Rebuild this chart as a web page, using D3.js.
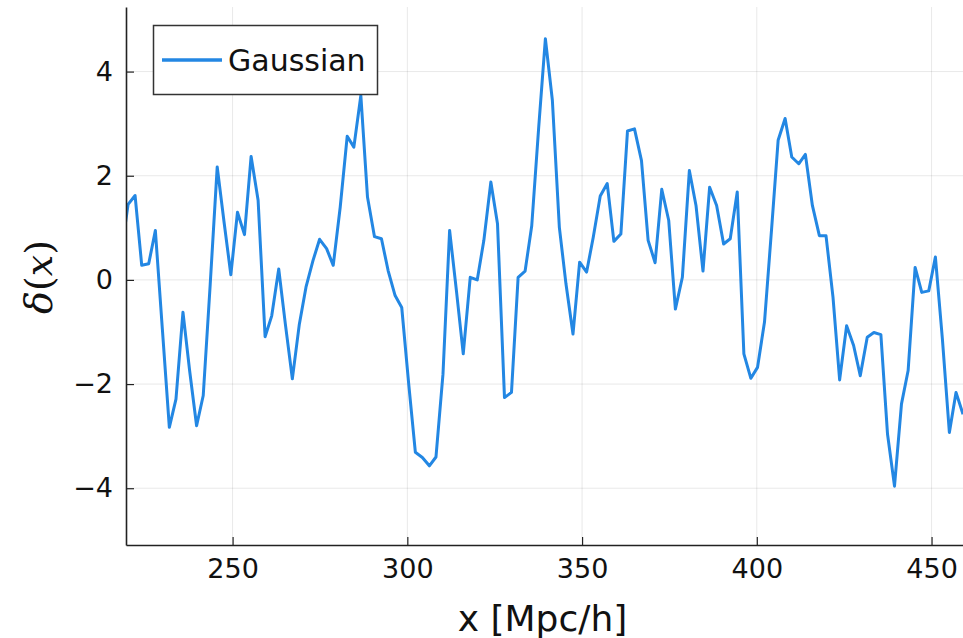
<!DOCTYPE html>
<html>
<head>
<meta charset="utf-8">
<script src="https://cdn.jsdelivr.net/npm/d3@7"></script>
<style>
	body { margin: 0; background: #fff; }
	svg { display: block; font-family: "DejaVu Sans", sans-serif; }
</style>
</head>
<body>
<svg id="svg" width="963" height="638"></svg>
<script>
// positions along the line of sight, Mpc/h
var xs = [218.1,
	220.1, 222.1, 224.0, 226.0, 227.9, 229.9, 231.9, 233.8, 235.8, 237.7,
	239.7, 241.6, 243.6, 245.6, 247.5, 249.5, 251.4, 253.4, 255.3, 257.3,
	259.3, 261.2, 263.2, 265.1, 267.1, 269.1, 271.0, 273.0, 274.9, 276.9,
	278.8, 280.8, 282.8, 284.7, 286.7, 288.6, 290.6, 292.6, 294.5, 296.5,
	298.4, 300.4, 302.3, 304.3, 306.3, 308.2, 310.2, 312.1, 314.1, 316.0,
	318.0, 320.0, 321.9, 323.9, 325.8, 327.8, 329.8, 331.7, 333.7, 335.6,
	337.6, 339.5, 341.5, 343.5, 345.4, 347.4, 349.3, 351.3, 353.2, 355.2,
	357.2, 359.1, 361.1, 363.0, 365.0, 367.0, 368.9, 370.9, 372.8, 374.8,
	376.7, 378.7, 380.7, 382.6, 384.6, 386.5, 388.5, 390.5, 392.4, 394.4,
	396.3, 398.3, 400.2, 402.2, 404.2, 406.1, 408.1, 410.0, 412.0, 413.9,
	415.9, 417.9, 419.8, 421.8, 423.7, 425.7, 427.7, 429.6, 431.6, 433.5,
	435.5, 437.4, 439.4, 441.4, 443.3, 445.3, 447.2, 449.2, 451.1, 453.1,
	455.1, 457.0, 459.0];

// density contrast delta(x)
var delta = [0.5,
	1.45, 1.62, 0.28, 0.31, 0.95, -0.94, -2.83, -2.29, -0.62, -1.74,
	-2.80, -2.22, -0.08, 2.17, 1.14, 0.10, 1.30, 0.87, 2.37, 1.53,
	-1.09, -0.69, 0.21, -0.85, -1.90, -0.85, -0.14, 0.37, 0.78, 0.60,
	0.28, 1.40, 2.76, 2.55, 3.54, 1.59, 0.83, 0.79, 0.18, -0.30,
	-0.53, -2.00, -3.31, -3.41, -3.57, -3.40, -1.81, 0.95, -0.24, -1.42,
	0.05, 0.00, 0.76, 1.88, 1.08, -2.26, -2.16, 0.05, 0.17, 1.04,
	2.94, 4.63, 3.45, 1.01, -0.08, -1.04, 0.34, 0.15, 0.82, 1.61,
	1.85, 0.74, 0.88, 2.86, 2.90, 2.29, 0.76, 0.33, 1.74, 1.14,
	-0.56, 0.05, 2.10, 1.43, 0.17, 1.78, 1.43, 0.69, 0.79, 1.69,
	-1.42, -1.89, -1.68, -0.81, 0.95, 2.68, 3.10, 2.36, 2.23, 2.41,
	1.43, 0.85, 0.85, -0.33, -1.92, -0.88, -1.26, -1.84, -1.10, -1.01,
	-1.05, -2.96, -3.96, -2.38, -1.74, 0.24, -0.24, -0.21, 0.44, -1.13,
	-2.93, -2.16, -2.58];

var xTicks = [250, 300, 350, 400, 450];
var yTicks = [-4, -2, 0, 2, 4];
var seriesName = "Gaussian";

(function(){
	var padL = 126, padR = 963, padT = 7, padB = 545;
	var color = "#2387e3";

	var svg = d3.select("#svg");

	var x = d3.scaleLinear().domain([219.5, 459]).range([padL, padR]);
	var y = d3.scaleLinear().domain([-5.09, 5.24]).range([padB, padT]);

	svg.append("clipPath").attr("id", "plotclip")
		.append("rect")
		.attr("x", padL).attr("y", padT)
		.attr("width", padR - padL).attr("height", padB - padT);

	// grid
	var grid = svg.append("g").attr("stroke", "#000").attr("stroke-opacity", 0.09).attr("stroke-width", 1);
	grid.selectAll(".gx").data(xTicks).enter().append("line")
		.attr("x1", function(d){ return x(d); }).attr("x2", function(d){ return x(d); })
		.attr("y1", padT).attr("y2", padB);
	grid.selectAll(".gy").data(yTicks).enter().append("line")
		.attr("x1", padL).attr("x2", padR)
		.attr("y1", function(d){ return y(d); }).attr("y2", function(d){ return y(d); });

	// the line
	var pts = xs.map(function(d, i){ return [d, delta[i]]; });
	var line = d3.line()
		.x(function(d){ return x(d[0]); })
		.y(function(d){ return y(d[1]); });

	svg.append("path")
		.datum(pts)
		.attr("clip-path", "url(#plotclip)")
		.attr("fill", "none")
		.attr("stroke", color)
		.attr("stroke-width", 3)
		.attr("stroke-linejoin", "round")
		.attr("d", line);

	// axes: inward ticks, no frame on top/right
	var xAxis = d3.axisBottom(x).tickValues(xTicks).tickSizeInner(-8).tickSizeOuter(0).tickPadding(9);
	var yAxis = d3.axisLeft(y).tickValues(yTicks).tickSizeInner(-8).tickSizeOuter(0).tickPadding(13)
		.tickFormat(function(d){ return d < 0 ? "\u2212" + Math.abs(d) : d; });

	var gx = svg.append("g").attr("transform", "translate(0," + padB + ")").call(xAxis);
	var gy = svg.append("g").attr("transform", "translate(" + padL + ",0)").call(yAxis);

	[gx, gy].forEach(function(g){
		g.select(".domain").attr("stroke", "#222").attr("stroke-width", 1.6);
		g.selectAll(".tick line").attr("stroke", "#222").attr("stroke-width", 1.2);
		g.selectAll(".tick text").attr("fill", "#111").attr("font-size", 27).attr("font-family", "DejaVu Sans");
	});
	gx.selectAll(".tick text").attr("dy", "0.9em");

	// axis titles
	svg.append("text")
		.attr("x", (padL + padR) / 2 - 2)
		.attr("y", 631)
		.attr("text-anchor", "middle")
		.attr("font-size", 36)
		.attr("fill", "#111")
		.text("x [Mpc/h]");

	var ylab = svg.append("text")
		.attr("transform", "translate(52,277) rotate(-90)")
		.attr("text-anchor", "middle")
		.attr("font-family", "DejaVu Serif")
		.attr("font-size", 38)
		.attr("fill", "#111");
	ylab.append("tspan").attr("font-style", "italic").text("\u03b4");
	ylab.append("tspan").text("(");
	ylab.append("tspan").attr("font-style", "italic").text("x");
	ylab.append("tspan").text(")");

	// legend
	var leg = svg.append("g");
	leg.append("rect")
		.attr("x", 153.5).attr("y", 25.5)
		.attr("width", 224).attr("height", 69)
		.attr("fill", "#fff")
		.attr("stroke", "#333").attr("stroke-width", 1.5);
	leg.append("line")
		.attr("x1", 162).attr("x2", 222)
		.attr("y1", 60).attr("y2", 60)
		.attr("stroke", color).attr("stroke-width", 3.5);
	leg.append("text")
		.attr("x", 228).attr("y", 71)
		.attr("font-size", 30)
		.attr("fill", "#111")
		.text(seriesName);
})();
</script>
</body>
</html>
